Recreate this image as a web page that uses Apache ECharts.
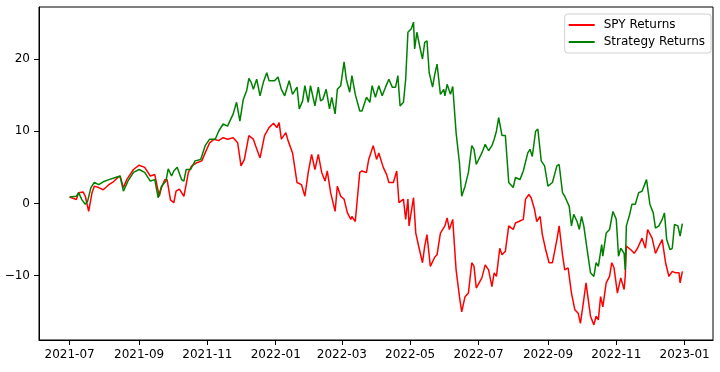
<!DOCTYPE html>
<html><head><meta charset="utf-8">
<script src="https://cdn.jsdelivr.net/npm/echarts@6/dist/echarts.min.js"></script>
<style>html,body{margin:0;padding:0;background:#fff}#c{width:720px;height:372px}</style>
</head><body><div id="c"></div>
<script>
// Days since 2021-07-01 and cumulative returns (%)
const spyDays = [0,6,8,12,14,17,20,22,26,30,35,39,43,45,48,51,57,62,67,72,76,80,82,85,87,90,93,95,98,102,104,106,109,113,118,121,125,129,133,137,141,146,150,153,156,160,164,166,170,174,178,182,185,187,189,193,195,199,203,207,210,213,216,219,222,225,228,230,233,237,239,242,245,248,251,252,255,259,261,265,267,271,274,276,280,283,285,289,292,294,298,300,302,303,307,309,312,315,317,319,322,326,328,331,335,337,339,342,345,348,350,353,356,359,361,363,368,371,374,377,379,381,384,386,389,392,396,398,401,405,407,410,412,415,417,420,422,425,428,431,435,437,440,442,445,448,451,454,456,459,461,463,465,468,470,472,474,476,479,482,484,486,489,492,495,496,497,501,504,507,511,514,516,520,523,526,529,532,535,538,541,544,545,547];
const spyReturns = [0.9,0.55,1.5,1.6,1.0,-1.1,1.5,2.4,2.2,1.9,2.6,3.0,3.6,3.8,2.2,3.3,4.7,5.3,5.0,3.8,4.0,1.0,2.2,3.3,3.3,0.5,0.1,1.7,2.0,1.0,2.6,4.3,5.2,5.6,5.9,7.0,8.4,8.9,8.7,9.1,8.9,9.1,8.4,5.2,6.1,9.4,8.9,8.0,6.3,9.4,10.5,11.1,10.5,11.2,8.9,9.8,8.7,7.0,2.9,2.6,1.0,4.3,6.8,4.7,6.8,4.3,3.1,4.5,1.5,-1.1,2.4,1.0,0.6,-1.3,-2.2,-1.8,-2.5,4.3,4.5,4.3,6.1,8.0,6.1,7.0,5.0,4.0,2.9,2.9,4.5,0.1,0.6,-2.2,0.6,-3.1,0.8,-4.1,-6.2,-8.2,-5.9,-4.3,-8.7,-7.4,-7.1,-4.1,-3.1,-2.0,-3.6,-2.2,-9.2,-12.9,-15.0,-12.9,-12.4,-8.2,-8.7,-11.7,-10.3,-8.5,-9.2,-11.5,-9.6,-10.1,-6.2,-7.1,-6.6,-3.1,-3.6,-2.7,-2.5,-2.2,0.6,1.25,0.8,-0.8,-2.5,-1.8,-4.3,-6.4,-8.2,-8.2,-5.0,-3.1,-7.1,-9.2,-8.9,-12.4,-14.7,-15.2,-16.6,-13.3,-11.0,-13.3,-15.6,-16.8,-15.6,-16.1,-12.9,-14.3,-11.0,-10.1,-8.2,-8.9,-12.4,-10.3,-11.9,-10.1,-5.9,-6.4,-6.9,-6.2,-4.8,-6.2,-3.6,-4.8,-6.9,-5.9,-5.0,-8.2,-10.1,-9.4,-9.6,-9.6,-11.0,-9.4];
const stratDays = [0,6,8,11,14,16,19,22,26,30,35,41,45,48,52,57,62,67,72,76,79,82,86,88,91,93,96,100,102,104,108,112,117,121,125,130,133,137,141,146,149,152,155,158,160,162,164,167,170,173,176,178,183,186,189,192,196,199,203,205,208,210,213,215,219,222,224,226,229,232,234,237,239,242,245,247,250,252,255,259,261,265,268,270,273,276,279,282,285,288,291,293,295,298,300,302,305,307,308,310,313,315,317,319,321,324,326,328,331,334,335,337,340,342,345,348,350,353,356,359,361,363,368,371,374,377,379,381,383,386,389,392,396,398,402,405,409,411,413,416,418,421,424,427,431,435,437,440,442,446,448,450,453,455,457,459,462,465,468,470,472,475,476,479,482,485,488,490,492,495,496,497,500,502,505,508,511,515,518,521,523,526,529,531,533,536,538,540,543,545,547];
const stratReturns = [0.9,1.0,1.5,0.5,-0.1,0.3,2.2,2.9,2.6,3.0,3.3,3.6,3.8,1.7,3.1,4.3,4.7,4.3,3.1,3.3,0.8,2.4,3.1,4.8,3.8,4.5,5.0,3.3,3.1,4.7,4.7,5.9,6.1,8.0,8.9,8.9,10.0,11.0,10.7,12.4,14.0,11.4,14.4,15.6,17.3,16.8,15.8,17.2,14.9,16.8,18.1,17.0,17.0,17.5,15.8,14.9,17.0,15.1,16.1,13.1,14.2,16.3,14.0,16.3,13.5,16.1,14.2,14.4,15.8,13.1,14.7,12.4,15.8,16.3,19.6,17.2,15.4,17.7,15.1,12.8,12.8,14.7,14.0,16.3,14.7,16.3,14.9,16.1,17.2,16.1,16.1,17.7,13.5,14.0,17.2,23.7,24.2,25.1,21.4,23.7,21.4,20.0,22.3,22.5,18.1,16.1,17.9,19.3,15.1,15.8,14.9,16.5,15.1,16.2,9.8,5.6,1.0,2.4,4.3,8.0,7.5,5.4,7.0,8.2,7.3,8.0,8.9,10.0,11.9,9.4,9.4,2.9,2.2,3.6,3.3,4.5,7.0,7.5,6.5,10.0,10.3,5.9,5.2,2.4,2.9,5.2,5.4,1.5,1.0,-0.4,-3.1,-1.5,-2.5,-3.6,-1.8,-3.1,-6.4,-9.6,-10.1,-8.2,-8.7,-5.7,-7.3,-4.1,-3.6,-1.1,-2.2,-7.3,-6.2,-6.9,-9.2,-3.1,-1.5,-0.1,-0.1,1.5,1.7,3.3,-0.1,-1.3,-3.4,-3.1,-2.2,-1.3,-5.0,-6.4,-6.2,-2.9,-3.1,-4.5,-2.8];
const xTickLabels = ['2021-07','2021-09','2021-11','2022-01','2022-03','2022-05','2022-07','2022-09','2022-11','2023-01'];
const yTicks = [-10, 0, 10, 20];
const seriesNames = ['SPY Returns', 'Strategy Returns'];

function dayToTime(d) { return new Date(2021, 6, 1 + d).getTime(); }
function labelToTime(s) { const p = s.split('-'); return new Date(+p[0], +p[1] - 1, 1).getTime(); }
function pad(n) { return n < 10 ? '0' + n : '' + n; }

const spyData = spyDays.map((d, i) => [dayToTime(d), spyReturns[i]]);
const stratData = stratDays.map((d, i) => [dayToTime(d), stratReturns[i]]);
const xTickValues = xTickLabels.map(labelToTime);

const lastDay = 547;
const marginDays = lastDay * 0.05;
const ONE_DAY = 86400000;
const xMin = dayToTime(0) - marginDays * ONE_DAY;
const xMax = dayToTime(lastDay) + marginDays * ONE_DAY;

const allVals = spyReturns.concat(stratReturns);
const vMin = Math.min.apply(null, allVals), vMax = Math.max.apply(null, allVals);
const vPad = (vMax - vMin) * 0.05;

const chart = echarts.init(document.getElementById('c'), null, { renderer: 'canvas' });
const font = 'DejaVu Sans';
chart.setOption({
  animation: false,
  backgroundColor: '#fff',
  textStyle: { fontFamily: font },
  grid: { left: 39, right: 7, top: 7, bottom: 32, show: true, borderColor: '#000', borderWidth: 1, backgroundColor: 'transparent' },
  legend: {
    data: seriesNames,
    orient: 'vertical',
    right: 9, top: 14,
    icon: 'rect', itemWidth: 26, itemHeight: 2, itemGap: 5,
    padding: [5, 6, 5, 4],
    backgroundColor: '#fff', borderColor: '#d0d0d0', borderWidth: 1, borderRadius: 3,
    textStyle: { fontFamily: font, fontSize: 12, color: '#000', padding: [0, 0, 0, 4] }
  },
  xAxis: {
    type: 'value', min: xMin, max: xMax, scale: true,
    axisLine: { show: true, onZero: false, lineStyle: { color: '#000', width: 1 } },
    axisTick: { show: true, inside: false, length: 5, lineStyle: { color: '#000' }, customValues: xTickValues },
    axisLabel: {
      customValues: xTickValues, color: '#000', fontFamily: font, fontSize: 12, margin: 9, hideOverlap: false,
      showMinLabel: true, showMaxLabel: true,
      formatter: function (v) { const d = new Date(v); return d.getFullYear() + '-' + pad(d.getMonth() + 1); }
    },
    splitLine: { show: false }
  },
  yAxis: {
    type: 'value', min: vMin - vPad, max: vMax + vPad,
    axisLine: { show: true, onZero: false, lineStyle: { color: '#000', width: 1 } },
    axisTick: { show: true, inside: false, length: 5, lineStyle: { color: '#000' }, customValues: yTicks },
    axisLabel: {
      customValues: yTicks, color: '#000', fontFamily: font, fontSize: 12, margin: 9,
      formatter: function (v) { return String(v).replace('-', '\u2212'); }
    },
    splitLine: { show: false }
  },
  series: [
    { name: seriesNames[0], type: 'line', data: spyData, showSymbol: false, symbol: 'none', color: '#ff0000', lineStyle: { color: '#ff0000', width: 1.5 } },
    { name: seriesNames[1], type: 'line', data: stratData, showSymbol: false, symbol: 'none', color: '#008000', lineStyle: { color: '#008000', width: 1.5 } }
  ]
});
</script></body></html>
